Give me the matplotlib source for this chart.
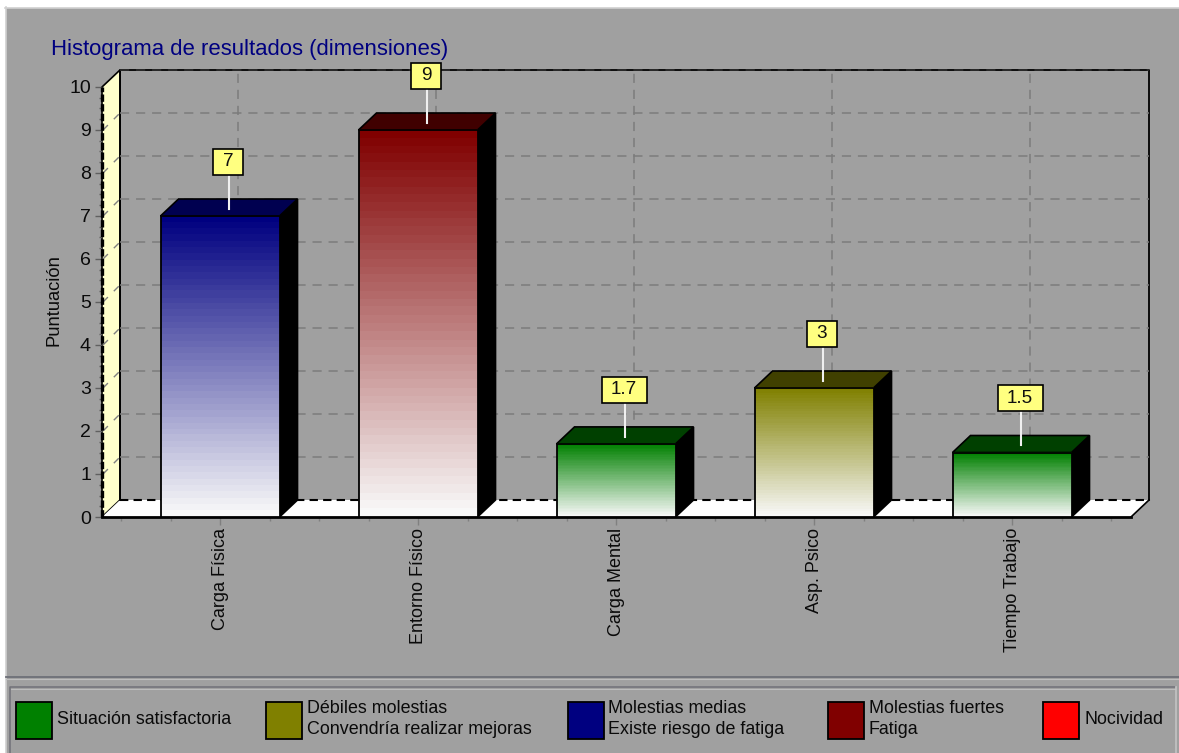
import numpy as np
import matplotlib
matplotlib.use("Agg")
import matplotlib.pyplot as plt
from matplotlib.patches import Polygon, Rectangle
from matplotlib.transforms import Affine2D, IdentityTransform
from matplotlib.colors import to_rgb

categories = ["Carga Física", "Entorno Físico", "Carga Mental", "Asp. Psico", "Tiempo Trabajo"]
values = [7, 9, 1.7, 3, 1.5]
value_labels = ["7", "9", "1.7", "3", "1.5"]
bar_colors = ["#000080", "#800000", "#008000", "#808000", "#008000"]
top_colors = ["#000050", "#400000", "#004000", "#404000", "#004000"]
legend_labels = ["Situación satisfactoria", "Débiles molestias\nConvendría realizar mejoras",
                 "Molestias medias\nExiste riesgo de fatiga", "Molestias fuertes\nFatiga", "Nocividad"]
legend_colors = ["#008000", "#808000", "#000080", "#800000", "#FF0000"]

W, H = 1179, 753
BG = "#A0A0A0"
FONT = "Liberation Sans"
plt.rcParams["font.family"] = FONT
fig = plt.figure(figsize=(W / 100, H / 100), dpi=100, facecolor="white")

# chrome layer in pixel coordinates
ch = fig.add_axes([0, 0, 1, 1], zorder=0)
ch.set_xlim(0, W); ch.set_ylim(H, 0); ch.axis("off")
ch.add_patch(Rectangle((6, 8), W - 6, H - 8, fc=BG, ec="none"))
ch.plot([5, W], [7.5, 7.5], color="#D0D0D0", lw=1.2)
ch.plot([5.5, 5.5], [7, H], color="#D0D0D0", lw=1.2)
ch.plot([6, W], [677, 677], color="#6E7078", lw=1.3)
ch.plot([6, W], [678.5, 678.5], color="#BEBEBE", lw=0.8)
ch.plot([9.5, 9.5, 1175], [H, 687, 687], color="#707078", lw=1.1)
ch.plot([11, 1175], [688.5, 688.5], color="#BEBEBE", lw=0.7)
ch.plot([1176, 1176], [687, H], color="#C4C4C4", lw=1.2)

swatch_x = [16, 266, 568, 828, 1043]
text_x = [57, 307, 608, 869, 1084]
for sx, tx, lab, col in zip(swatch_x, text_x, legend_labels, legend_colors):
    ch.add_patch(Rectangle((sx, 702), 36, 37, fc=col, ec="black", lw=1.3))
    ch.text(tx, 719, lab, ha="left", va="center", fontsize=12.9, color="#0A0A0A", linespacing=1.32)

ch.text(51, 49, "Histograma de resultados (dimensiones)", color="#000080", fontsize=15.9, ha="left", va="center")
ch.text(54, 300, "Puntuación", rotation=90, ha="center", va="center", fontsize=13.2, color="#0A0A0A")

# plot layer
ax = fig.add_axes([102 / W, 1 - 517 / H, 1029 / W, 430 / H], zorder=1)
ax.patch.set_alpha(0)
for s in ax.spines.values():
    s.set_visible(False)
xlim = (-0.596, 4.601)
ax.set_xlim(*xlim); ax.set_ylim(0, 10)
DX, DY = 18, 17
back = ax.transData + Affine2D().translate(DX, DY)
I = IdentityTransform()

def d(x, y):
    return ax.transData.transform((x, y))

def poly(points, fc, ec="black", lw=1.2, z=2):
    ax.add_patch(Polygon(points, closed=True, fc=fc, ec=ec, lw=lw, transform=I, clip_on=False, zorder=z))

x0, x1 = xlim
# walls
bl, br, tl = d(x0, 0), d(x1, 0), d(x0, 10)
off = np.array([DX, DY])
poly([tl, tl + off, bl + off, bl], "#FFFFCC", z=1)
poly([bl, bl + off, br + off, br], "white", ec="none", z=1)
ax.plot([x0, x1], [0, 0], transform=back, color="black", lw=1.5, ls=(0, (4, 2.5)), clip_on=False, zorder=1.5)
ax.plot([x1, x1, x0, x0], [0, 10, 10, 0], transform=back, color="black", lw=1.3, clip_on=False, zorder=1.5)
ax.plot([br[0], br[0] + DX], [br[1], br[1] + DY], transform=I, color="black", lw=1.2, zorder=1.5, clip_on=False)

# grid on back wall and wall ticks
for v in range(1, 11):
    ax.plot([x0, x1], [v, v], transform=back, color="#7C7C7C" if v < 10 else "#303030",
            lw=1.1, ls=(0, (6, 4.5)), clip_on=False, zorder=1.6)
for i in range(len(categories)):
    ax.plot([i, i], [0, 10], transform=back, color="#7C7C7C", lw=1.1, ls=(0, (6, 4.5)), clip_on=False, zorder=1.6)
for v in range(1, 10):
    a = d(x0, v)
    ax.plot([a[0] + 1, a[0] + DX], [a[1], a[1] + DY], transform=I, color="#808080", lw=1.0,
            ls=(0, (5, 6)), clip_on=False, zorder=1.6)

# bars
bw = 0.601
for i, (v, c, tc, lab) in enumerate(zip(values, bar_colors, top_colors, value_labels)):
    L, R = i - bw / 2, i + bw / 2
    p_bl, p_br, p_tl, p_tr = d(L, 0), d(R, 0), d(L, v), d(R, v)
    poly([p_br, p_tr, p_tr + off, p_br + off], "black", z=3)
    poly([p_tl, p_tr, p_tr + off, p_tl + off], tc, z=3)
    col = np.array(to_rgb(c)); end = np.array([0.975, 0.975, 0.975])
    n = 48
    t = np.floor(np.linspace(0, n - 0.001, 256)) / (n - 1)
    grad = (col[None, :] * (1 - t[:, None]) + end[None, :] * t[:, None])[:, None, :]
    ax.imshow(grad, extent=(L, R, 0, v), aspect="auto", zorder=3.2, interpolation="nearest", clip_on=False)
    ax.add_patch(Rectangle((L, 0), bw, v, fc="none", ec="black", lw=1.3, zorder=3.3, clip_on=False))
    # value callout
    cx = p_tl[0] + (p_tr[0] - p_tl[0]) / 2 + DX / 2
    ybot = p_tl[1] + 7
    ytop = ybot + 34
    ax.plot([cx, cx], [ybot, ytop], transform=I, color="#F0F0F0", lw=1.5, clip_on=False, zorder=4)
    bwid = 30 if len(lab) == 1 else 45
    ax.add_patch(Rectangle((cx - bwid / 2 - 1, ytop), bwid, 26, fc="#FFFF80", ec="black", lw=1.2,
                           transform=I, clip_on=False, zorder=5))
    ax.text(cx - 1, ytop + 13, lab, transform=I, ha="center", va="center", fontsize=13.6, color="#101010",
            zorder=6, clip_on=False)

ax.set_xlim(*xlim); ax.set_ylim(0, 10)

# axes lines
ax.plot([x0, x1], [0, 0], color="black", lw=2, clip_on=False, zorder=2.5)
ax.plot([x0, x0], [0, 10], color="black", lw=2.4, ls=(0, (2.2, 0.7)), clip_on=False, zorder=2.5)

ax.set_xticks(range(len(categories)))
ax.set_xticklabels(categories, rotation=90, fontsize=13, color="#0A0A0A")
ax.set_xticks(np.arange(-0.5, 4.6, 0.25), minor=True)
ax.set_yticks(range(0, 11))
ax.set_yticklabels([str(v) for v in range(0, 11)], fontsize=14, color="#0A0A0A")
ax.set_yticks(np.arange(0, 10.01, 0.25), minor=True)
ax.tick_params(axis="x", which="major", length=6, width=1, color="#808080", pad=2)
ax.tick_params(axis="x", which="minor", length=3, width=1, color="#808080")
ax.tick_params(axis="y", which="major", length=5, width=1, color="#606060", pad=3)
ax.tick_params(axis="y", which="minor", length=2, width=1, color="#606060")

fig.savefig("out.png", dpi=100, facecolor="white")
